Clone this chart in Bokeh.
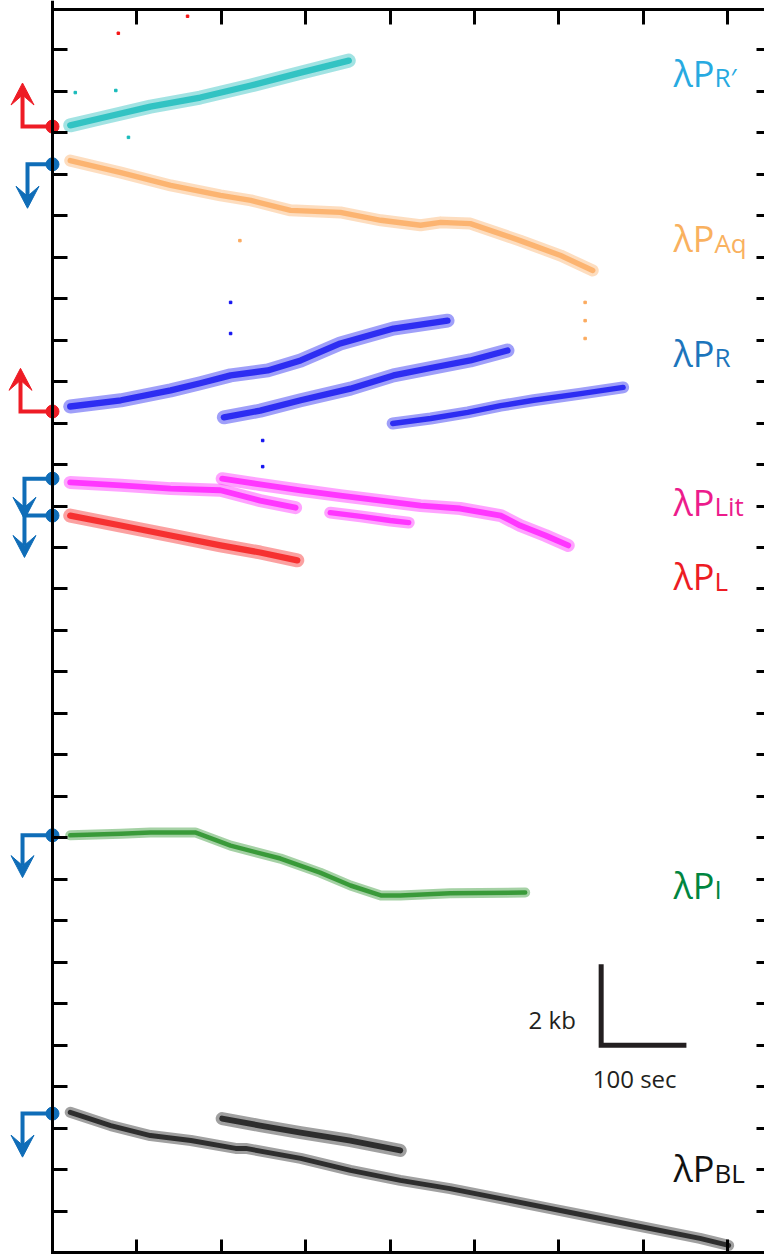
from bokeh.plotting import figure
from bokeh.models import (Range1d, LinearAxis, FixedTicker, Label, CustomJSTickFormatter)
from bokeh.embed import file_html
from bokeh.resources import INLINE

# ---------------- data (time in sec, position in kb) ----------------
rprime_t = [21, 57, 116, 175, 235, 294, 351]
rprime_y = [27.18, 27.35, 27.63, 27.85, 28.14, 28.45, 28.74]

aq_t = [21, 81, 140, 199, 235, 282, 341, 389, 436, 460, 495, 554, 602, 640]
aq_y = [26.33, 26.04, 25.73, 25.49, 25.37, 25.13, 25.08, 24.89, 24.77, 24.84, 24.81, 24.40, 24.04, 23.68]

r1_t = [21, 81, 140, 175, 211, 255, 294, 341, 404, 468]
r1_y = [20.40, 20.55, 20.79, 20.96, 21.15, 21.27, 21.51, 21.92, 22.28, 22.47]
r2_t = [203, 246, 294, 353, 404, 451, 495, 539]
r2_y = [20.14, 20.30, 20.55, 20.83, 21.15, 21.34, 21.51, 21.75]
r3_t = [403, 448, 492, 531, 570, 626, 676]
r3_y = [19.99, 20.11, 20.26, 20.42, 20.55, 20.71, 20.86]

lit1_t = [21, 81, 140, 199, 246, 288]
lit1_y = [18.57, 18.50, 18.42, 18.38, 18.13, 17.96]
lit2_t = [201, 246, 294, 341, 389, 436, 483, 531, 554, 584, 611]
lit2_y = [18.66, 18.52, 18.38, 18.25, 18.13, 18.01, 17.94, 17.77, 17.53, 17.29, 17.05]
lit3_t = [329, 365, 400, 422]
lit3_y = [17.84, 17.75, 17.65, 17.60]

l_t = [21, 81, 140, 199, 246, 290]
l_y = [17.77, 17.53, 17.29, 17.05, 16.88, 16.69]

i_t = [21, 81, 116, 169, 211, 270, 317, 353, 389, 412, 471, 560]
i_y = [10.06, 10.10, 10.13, 10.13, 9.81, 9.50, 9.16, 8.85, 8.61, 8.61, 8.66, 8.68]

bl1_t = [21, 69, 116, 164, 217, 229, 294, 353, 412, 471, 531, 590, 649, 708, 767, 801]
bl1_y = [3.38, 3.06, 2.82, 2.70, 2.51, 2.51, 2.27, 1.98, 1.74, 1.54, 1.30, 1.06, 0.82, 0.58, 0.34, 0.17]
bl2_t = [201, 246, 294, 353, 412]
bl2_y = [3.23, 3.06, 2.89, 2.70, 2.46]

# isolated stray points
stray_red_t = [78, 160]
stray_red_y = [29.40, 29.81]
stray_cyan_t = [27, 75, 90]
stray_cyan_y = [27.97, 28.02, 26.89]
stray_orange_t = [631, 631, 631, 222]
stray_orange_y = [22.91, 22.47, 22.04, 24.40]
stray_blue_t = [211, 211, 249, 249]
stray_blue_y = [22.91, 22.16, 19.58, 18.95]

x_ticks = [100, 200, 300, 400, 500, 600, 700, 800]
y_ticks = list(range(1, 30))

X0, X1 = -61.6, 843.5
Y0, Y1 = -0.048, 30.19
W, H = 764, 1254
SX = (X1 - X0) / W      # data units per pixel (x)
SY = (Y1 - Y0) / H      # data units per pixel (y)

p = figure(width=W, height=H, x_range=Range1d(X0, X1), y_range=Range1d(Y0, Y1),
           output_backend="svg", toolbar_location=None, min_border=0,
           x_axis_location=None, y_axis_location=None)
p.outline_line_color = None
p.grid.visible = False
p.background_fill_color = "white"
p.border_fill_color = "white"

blank = CustomJSTickFormatter(code="return ''")

def make_axis(loc, ticks, tick_in, bounds=None, line=True):
    ax = LinearAxis(fixed_location=loc, ticker=FixedTicker(ticks=ticks),
                    major_tick_in=tick_in, major_tick_out=0,
                    minor_tick_in=0, minor_tick_out=0,
                    major_label_text_font_size="0px", formatter=blank,
                    axis_line_width=3, major_tick_line_width=3,
                    axis_line_color="black" if line else None,
                    major_tick_line_color="black")
    if bounds is not None:
        ax.bounds = bounds
    return ax

p.add_layout(make_axis(0, y_ticks, 15), "left")
p.add_layout(make_axis(29.973, x_ticks, 15, bounds=(0, X1)), "above")
p.add_layout(make_axis(0, x_ticks, 13, bounds=(0, X1)), "below")
p.add_layout(make_axis(X1, y_ticks, 8, line=False), "right")

# ---------------- traces ----------------
traces = [
    (rprime_t, rprime_y, "#17BABA", 14),
    (aq_t, aq_y, "#FBAA5E", 12),
    (r1_t, r1_y, "#1010F0", 14),
    (r2_t, r2_y, "#1010F0", 14),
    (r3_t, r3_y, "#1010F0", 12),
    (lit1_t, lit1_y, "#FF1AFF", 13),
    (lit2_t, lit2_y, "#FF1AFF", 13),
    (lit3_t, lit3_y, "#FF1AFF", 12),
    (l_t, l_y, "#F51515", 14),
    (i_t, i_y, "#1E8C1E", 10),
    (bl1_t, bl1_y, "#111111", 11),
    (bl2_t, bl2_y, "#111111", 13),
]
for tx, ty, c, w in traces:
    p.line(tx, ty, line_color=c, line_width=w, line_alpha=0.4, line_cap="round", line_join="round")
    p.line(tx, ty, line_color=c, line_width=w * 0.45, line_alpha=0.8, line_cap="round", line_join="round")

for sx, sy, c in [(stray_red_t, stray_red_y, "#F51515"), (stray_cyan_t, stray_cyan_y, "#17BABA"),
                  (stray_orange_t, stray_orange_y, "#FBAA5E"), (stray_blue_t, stray_blue_y, "#1010F0")]:
    p.scatter(sx, sy, size=2.5, marker="square", color=c)

# ---------------- promoter direction arrows ----------------
RED = "#EE1C25"
BLUE = "#0F6DB8"
# (dot_y, corner_x, tip_y, colour)
arrows = [
    (27.15, -35.5, 28.20, RED),
    (26.24, -29.6, 25.18, BLUE),
    (20.28, -37.9, 21.32, RED),
    (18.66, -33.2, 17.68, BLUE),
    (17.77, -33.2, 16.76, BLUE),
    (10.06, -35.5, 9.04, BLUE),
    (3.35, -35.5, 2.30, BLUE),
]
HEAD_HALF_W, HEAD_LEN, HEAD_NOTCH = 11.5, 22, 12   # px
for dy, cx, ty, c in arrows:
    d = 1 if ty > dy else -1
    back = ty - d * HEAD_LEN * SY
    notch = ty - d * HEAD_NOTCH * SY
    p.line([0, cx, cx], [dy, dy, notch], line_color=c, line_width=4, line_join="miter")
    p.patch([cx, cx - HEAD_HALF_W * SX, cx, cx + HEAD_HALF_W * SX],
            [ty, back, notch, back], fill_color=c, line_color=c, line_width=1)
    p.scatter([0], [dy], size=13, marker="circle", color=c)

# ---------------- scale bar ----------------
p.line([650, 650, 751], [6.95, 5.0, 5.0], line_color="#231F20", line_width=5, line_join="miter")
p.add_layout(Label(x=564, y=5.62, text="2 kb", text_font="Open Sans", text_font_size="24px",
                   text_color="#231F20", text_baseline="alphabetic"))
p.add_layout(Label(x=640, y=4.20, text="100 sec", text_font="Open Sans", text_font_size="24px",
                   text_color="#231F20", text_baseline="alphabetic"))

# ---------------- promoter labels ----------------
label_x = 735.6
labels = [
    (28.43, "R\u2032", "#27AAE1"),
    (24.45, "Aq", "#F9B15F"),
    (21.68, "R", "#1C75BC"),
    (18.09, "Lit", "#EC1C8C"),
    (16.30, "L", "#ED1C24"),
    (8.85, "I", "#00853F"),
    (2.02, "BL", "#111111"),
]
for ly, sub, c in labels:
    p.add_layout(Label(x=label_x, y=ly, text="\u03bbP", text_font="Open Sans", text_font_size="36px",
                       text_color=c, text_baseline="alphabetic"))
    p.add_layout(Label(x=label_x, y=ly, x_offset=41, y_offset=-4, text=sub, text_font="Open Sans",
                       text_font_size="26px", text_color=c, text_baseline="alphabetic"))

open("out.html", "w").write(file_html(p, INLINE))
